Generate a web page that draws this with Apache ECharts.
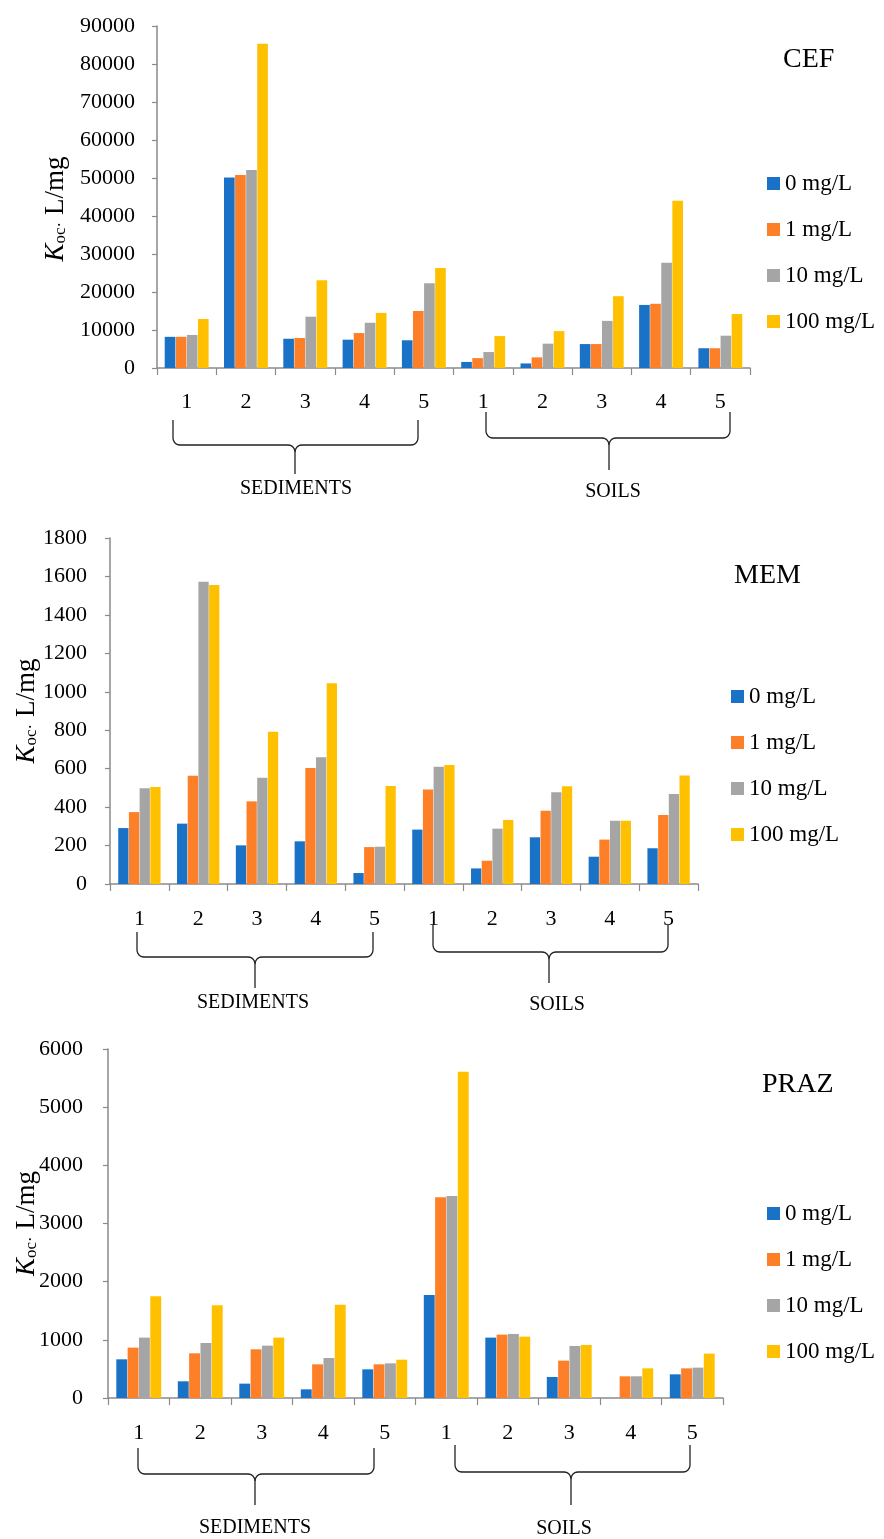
<!DOCTYPE html>
<html>
<head>
<meta charset="utf-8">
<script src="https://cdn.jsdelivr.net/npm/echarts@6/dist/echarts.min.js"></script>
<style>
  html, body { margin: 0; padding: 0; background: #fff; }
  #chart { width: 884px; height: 1539px; }
</style>
</head>
<body>
<div id="chart"></div>
<script>
const categories = ['1', '2', '3', '4', '5', '1', '2', '3', '4', '5']
const levels = ['0 mg/L', '1 mg/L', '10 mg/L', '100 mg/L']

// CEF, Koc L/mg
const cef0 = [8200, 50100, 7700, 7450, 7300, 1600, 1200, 6300, 16600, 5200]
const cef1 = [8200, 50800, 7900, 9200, 15000, 2600, 2800, 6300, 16900, 5200]
const cef10 = [8700, 52100, 13500, 11900, 22300, 4200, 6400, 12400, 27700, 8500]
const cef100 = [12900, 85300, 23100, 14500, 26300, 8400, 9700, 18900, 44000, 14200]

// MEM
const mem0 = [291, 314, 201, 222, 57, 283, 81, 243, 142, 186]
const mem1 = [374, 563, 430, 603, 192, 492, 121, 381, 231, 359]
const mem10 = [498, 1572, 553, 660, 194, 610, 288, 477, 329, 468]
const mem100 = [504, 1556, 792, 1045, 510, 619, 333, 508, 329, 565]

// PRAZ
const praz0 = [665, 287, 247, 149, 493, 1772, 1038, 361, 0, 407]
const praz1 = [866, 768, 837, 579, 579, 3452, 1089, 642, 373, 510]
const praz10 = [1038, 946, 900, 688, 596, 3474, 1101, 894, 373, 522]
const praz100 = [1749, 1594, 1038, 1605, 659, 5607, 1055, 912, 510, 763]

const colors = ['#1a72c7', '#fd7f28', '#a5a5a5', '#ffc000']
const font = '"Liberation Serif", "DejaVu Serif", serif'

const panels = [
  { title: 'CEF', values: [cef0, cef1, cef10, cef100], max: 90000, step: 10000,
    grid: { left: 157, top: 26, width: 593, height: 342 }, gap: '26%',
    nameGap: 88, namePad: [0, 24, 0, 0], yMargin: 22, xMargin: 23,
    titlePos: [783, 46], legendPos: [767, 172] },
  { title: 'MEM', values: [mem0, mem1, mem10, mem100], max: 1800, step: 200,
    grid: { left: 110, top: 538, width: 588, height: 346 }, gap: '28%',
    nameGap: 70, namePad: 0, yMargin: 23, xMargin: 24,
    titlePos: [734, 562], legendPos: [731, 685] },
  { title: 'PRAZ', values: [praz0, praz1, praz10, praz100], max: 6000, step: 1000,
    grid: { left: 108, top: 1049, width: 615, height: 349 }, gap: '27%',
    nameGap: 68, namePad: 0, yMargin: 25, xMargin: 24,
    titlePos: [762, 1071], legendPos: [767, 1202] },
]

// curly brackets under the x axes: [x1, x2, xc, yTop, yMid, yBot]
const braces = [
  [173, 418, 295, 420, 445, 474], [486, 730, 609, 412, 438, 470],
  [137, 373, 255, 932, 957, 988], [433, 668, 549, 925, 952, 983],
  [138, 374, 255, 1448, 1474, 1505], [455, 690, 571, 1445, 1472, 1505],
]
const groupLabels = [
  ['SEDIMENTS', 296, 489], ['SOILS', 613, 492],
  ['SEDIMENTS', 253, 1003], ['SOILS', 557, 1005],
  ['SEDIMENTS', 255, 1528], ['SOILS', 564, 1529],
]

function arc(cx, cy, r, a0, a1) {
  const pts = []
  for (let i = 0; i <= 6; i++) {
    const a = (a0 + (a1 - a0) * i / 6) * Math.PI / 180
    pts.push([cx + r * Math.cos(a), cy + r * Math.sin(a)])
  }
  return pts
}

function braceHalves(b) {
  const [x1, x2, xc, yt, ym, yb] = b
  const r = 7
  const left = [[x1, yt], ...arc(x1 + r, ym - r, r, 180, 90), ...arc(xc - r, ym + r, r, 270, 360), [xc, yb]]
  const right = [[x2, yt], ...arc(x2 - r, ym - r, r, 0, 90), ...arc(xc + r, ym + r, r, 270, 180)]
  return [left, right]
}

const axisLine = { show: true, lineStyle: { color: '#8a8a8a', width: 1.5 } }
const chart = echarts.init(document.getElementById('chart'))

const series = []
panels.forEach((p, pi) => {
  p.values.forEach((vals, si) => {
    series.push({
      name: levels[si],
      type: 'bar',
      xAxisIndex: pi,
      yAxisIndex: pi,
      barGap: '4%',
      barCategoryGap: p.gap,
      itemStyle: { color: colors[si] },
      data: vals,
    })
  })
})

const braceLines = []
braces.forEach(b => {
  braceHalves(b).forEach(points => {
    braceLines.push({
      type: 'polyline',
      silent: true,
      shape: { points },
      style: { fill: null, stroke: '#222', lineWidth: 1.3 },
    })
  })
})

chart.setOption({
  animation: false,
  backgroundColor: '#fff',
  textStyle: { fontFamily: font },
  title: panels.map(p => ({
    text: p.title,
    left: p.titlePos[0],
    top: p.titlePos[1],
    padding: 0,
    textStyle: { fontFamily: font, fontSize: 28, fontWeight: 'normal', color: '#000' },
  })),
  legend: panels.map(p => ({
    data: levels,
    orient: 'vertical',
    left: p.legendPos[0],
    top: p.legendPos[1],
    padding: 0,
    itemWidth: 13,
    itemHeight: 13,
    itemGap: 23,
    icon: 'rect',
    textStyle: { fontFamily: font, fontSize: 23, color: '#000' },
  })),
  grid: panels.map(p => ({ ...p.grid, containLabel: false, outerBoundsMode: 'none' })),
  xAxis: panels.map((p, i) => ({
    type: 'category',
    gridIndex: i,
    data: categories,
    axisLine,
    axisTick: { show: true, length: 7, lineStyle: { color: '#8a8a8a', width: 1.2 } },
    axisLabel: { fontFamily: font, fontSize: 22, color: '#000', margin: p.xMargin },
  })),
  yAxis: panels.map((p, i) => ({
    type: 'value',
    gridIndex: i,
    min: 0,
    max: p.max,
    interval: p.step,
    splitLine: { show: false },
    axisLine,
    axisTick: { show: true, length: 5, lineStyle: { color: '#8a8a8a', width: 1.2 } },
    axisLabel: { fontFamily: font, fontSize: 22, color: '#000', margin: p.yMargin, formatter: v => String(v) },
    name: '{k|K}{s|oc·}{t| L/mg}',
    nameLocation: 'middle',
    nameGap: p.nameGap,
    nameMoveOverlap: false,
    nameTextStyle: {
      padding: p.namePad,
      rich: {
        k: { fontFamily: font, fontSize: 27, fontStyle: 'italic', color: '#000', lineHeight: 27, verticalAlign: 'top' },
        s: { fontFamily: font, fontSize: 17, color: '#000', lineHeight: 17, verticalAlign: 'bottom' },
        t: { fontFamily: font, fontSize: 27, color: '#000', lineHeight: 27, verticalAlign: 'top' },
      },
    },
  })),
  graphic: [
    ...braceLines,
    ...groupLabels.map(g => ({
      type: 'text',
      silent: true,
      x: g[1],
      y: g[2],
      style: { text: g[0], fontFamily: font, fontSize: 20, fill: '#000', align: 'center', verticalAlign: 'middle' },
    })),
  ],
  series,
})

window.addEventListener('resize', () => chart.resize())
</script>
</body>
</html>
